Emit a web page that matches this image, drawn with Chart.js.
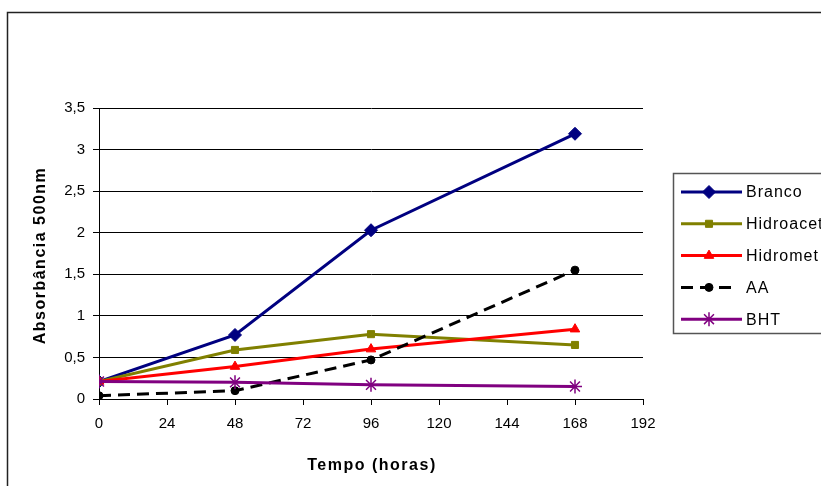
<!DOCTYPE html>
<html>
<head>
<meta charset="utf-8">
<script src="https://cdn.jsdelivr.net/npm/chart.js@4/dist/chart.umd.min.js"></script>
<style>
  html, body { margin: 0; padding: 0; background: #fff; overflow: hidden; }
  #wrap { position: relative; width: 821px; height: 486px; }
</style>
</head>
<body>
<div id="wrap"><canvas id="absChart" width="821" height="486"></canvas></div>
<script>
// data
const hours = [0, 48, 96, 168];
const branco = [0.21, 0.77, 2.03, 3.19];
const hidroacet = [0.21, 0.59, 0.78, 0.65];
const hidromet = [0.21, 0.39, 0.60, 0.84];
const aa = [0.04, 0.10, 0.47, 1.55];
const bht = [0.21, 0.20, 0.17, 0.15];
const seriesNames = ['Branco', 'Hidroacet', 'Hidromet', 'AA', 'BHT'];
const xTicks = [0, 24, 48, 72, 96, 120, 144, 168, 192];
const yTicks = [0, 0.5, 1, 1.5, 2, 2.5, 3, 3.5];
const xTitle = 'Tempo (horas)';
const yTitle = 'Absorbância 500nm';

function toPoints(values) {
    return hours.map((h, i) => ({ x: h, y: values[i] }));
}

function makeSet(label, values, color, style, radius, order, dash) {
    return {
        label: label,
        data: toPoints(values),
        borderColor: color,
        backgroundColor: color,
        pointBackgroundColor: color,
        pointBorderColor: color,
        pointBorderWidth: style === 'star' ? 1.5 : 1,
        pointStyle: style,
        pointRadius: radius,
        pointHoverRadius: radius,
        borderWidth: 3,
        borderDash: dash || [],
        tension: 0,
        fill: false,
        order: order
    };
}

// outer frame, like the spreadsheet chart border
const framePlugin = {
    id: 'frame',
    beforeDraw(chart) {
        const ctx = chart.ctx;
        ctx.save();
        ctx.strokeStyle = '#222';
        ctx.lineWidth = 1.5;
        ctx.strokeRect(7.5, 12.5, 900, 520);
        ctx.restore();
    }
};

// axis titles drawn with a little letter spacing
const titlesPlugin = {
    id: 'titles',
    afterDraw(chart) {
        const ctx = chart.ctx;
        const area = chart.chartArea;
        ctx.save();
        ctx.fillStyle = '#000';
        ctx.font = 'bold 16px "Liberation Sans", Arial, sans-serif';
        ctx.letterSpacing = '1.5px';
        ctx.textAlign = 'center';
        ctx.textBaseline = 'middle';
        ctx.fillText(xTitle, (area.left + area.right) / 2 + 1, 466);
        ctx.translate(41, (area.top + area.bottom) / 2 + 2);
        ctx.rotate(-Math.PI / 2);
        ctx.fillText(yTitle, 0, 0);
        ctx.restore();
    }
};

// boxed legend on the right, cut off by the page edge like the original
const boxLegendPlugin = {
    id: 'boxLegend',
    afterDraw(chart) {
        const ctx = chart.ctx;
        const left = 673.5, top = 173.5, rowH = 31.8, firstY = 192;
        ctx.save();
        ctx.strokeStyle = '#555';
        ctx.lineWidth = 1.5;
        ctx.strokeRect(left, top, 200, 160);
        chart.data.datasets.forEach((ds, i) => {
            const y = firstY + i * rowH;
            ctx.save();
            ctx.strokeStyle = ds.borderColor;
            ctx.lineWidth = ds.borderWidth;
            ctx.setLineDash(ds.borderDash);
            ctx.beginPath();
            ctx.moveTo(681, y);
            ctx.lineTo(ds.borderDash.length ? 733 : 742, y);
            ctx.stroke();
            ctx.setLineDash([]);
            ctx.fillStyle = ds.pointBackgroundColor;
            ctx.strokeStyle = ds.pointBorderColor;
            ctx.lineWidth = ds.pointBorderWidth;
            Chart.helpers.drawPoint(ctx, {
                pointStyle: ds.pointStyle,
                radius: ds.pointRadius,
                borderWidth: ds.pointBorderWidth,
                rotation: 0
            }, 709, y);
            ctx.restore();
            ctx.fillStyle = '#000';
            ctx.font = '16px "Liberation Sans", Arial, sans-serif';
            ctx.letterSpacing = '1px';
            ctx.textAlign = 'left';
            ctx.textBaseline = 'middle';
            ctx.fillText(ds.label, 746, y + 1);
        });
        ctx.restore();
    }
};

const tickFont = { family: '"Liberation Sans", Arial, sans-serif', size: 15 };

new Chart(document.getElementById('absChart').getContext('2d'), {
    type: 'line',
    data: {
        datasets: [
            makeSet(seriesNames[0], branco, '#000080', 'rectRot', 6.5, 5),
            makeSet(seriesNames[1], hidroacet, '#808000', 'rect', 5, 4),
            makeSet(seriesNames[2], hidromet, '#FF0000', 'triangle', 5.5, 3),
            makeSet(seriesNames[3], aa, '#000000', 'circle', 4, 2, [12, 7]),
            makeSet(seriesNames[4], bht, '#800080', 'star', 7, 1)
        ]
    },
    options: {
        responsive: false,
        animation: false,
        layout: { padding: { top: 108, right: 178, bottom: 0, left: 0 } },
        plugins: {
            legend: { display: false },
            tooltip: { enabled: false }
        },
        scales: {
            x: {
                type: 'linear',
                min: 0,
                max: 192,
                afterFit: scale => { scale.height = 87; },
                afterBuildTicks: scale => { scale.ticks = xTicks.map(v => ({ value: v })); },
                ticks: { color: '#000', font: tickFont, padding: 10, maxRotation: 0 },
                grid: { drawOnChartArea: false, drawTicks: true, tickLength: 6, color: '#000', lineWidth: 1 },
                border: { display: true, color: '#000', width: 1 }
            },
            y: {
                min: 0,
                max: 3.5,
                afterFit: scale => { scale.width = 99; },
                afterBuildTicks: scale => { scale.ticks = yTicks.map(v => ({ value: v })); },
                ticks: {
                    color: '#000',
                    font: tickFont,
                    padding: 8,
                    callback: v => String(v).replace('.', ',')
                },
                grid: { drawTicks: true, tickLength: 6, color: '#000', lineWidth: 1 },
                border: { display: true, color: '#000', width: 1 }
            }
        }
    },
    plugins: [framePlugin, titlesPlugin, boxLegendPlugin]
});
</script>
</body>
</html>
